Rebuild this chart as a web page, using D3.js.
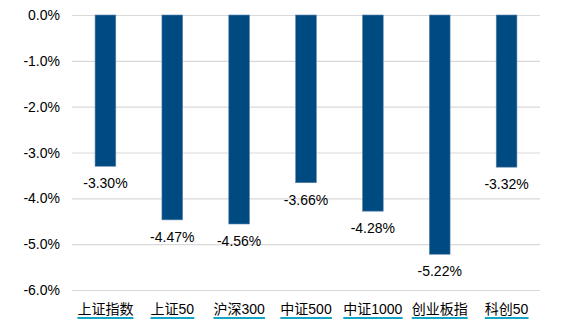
<!DOCTYPE html>
<html><head><meta charset="utf-8">
<script src="https://cdn.jsdelivr.net/npm/d3@7/dist/d3.min.js"></script>
<style>body{margin:0;background:#fff}svg{display:block}</style>
</head><body><svg id="c" width="568" height="322"></svg>
<script>
const categories = ["上证指数","上证50","沪深300","中证500","中证1000","创业板指","科创50"];
const values = [-3.30,-4.47,-4.56,-3.66,-4.28,-5.22,-3.32];
const yTicks = [0,-1,-2,-3,-4,-5,-6];

const loc = d3.formatLocale({decimal:".",thousands:",",grouping:[3],currency:["",""],minus:"-"});
const f1 = loc.format(".1f"), f2 = loc.format(".2f");

const svg = d3.select("#c");
const x = d3.scaleBand().domain(categories).range([72,540]).paddingInner(0.69).paddingOuter(0.345);
const y = d3.scaleLinear().domain([0,-6]).range([15,290]);

svg.append("g").selectAll("line").data(yTicks).join("line")
  .attr("x1",72).attr("x2",540).attr("y1",d=>y(d)+0.5).attr("y2",d=>y(d)+0.5)
  .attr("stroke","#d9d9d9").attr("stroke-width",1.2);

svg.append("g").selectAll("text").data(yTicks).join("text")
  .attr("x",60).attr("y",d=>y(d)+5).attr("text-anchor","end")
  .attr("font-family","Liberation Sans, Arial, sans-serif").attr("font-size",14).attr("fill","#000")
  .text(d=>f1(d)+"%");

svg.append("g").selectAll("rect").data(values).join("rect")
  .attr("x",(d,i)=>x(categories[i])).attr("width",x.bandwidth())
  .attr("y",y(0)).attr("height",d=>y(d)-y(0))
  .attr("fill","#004a82").attr("stroke","#5f86ad").attr("stroke-width",0.6);

svg.append("g").selectAll("text").data(values).join("text")
  .attr("x",(d,i)=>x(categories[i])+x.bandwidth()/2).attr("y",d=>y(d)+22)
  .attr("text-anchor","middle")
  .attr("font-family","Liberation Sans, Arial, sans-serif").attr("font-size",14).attr("fill","#000")
  .text(d=>f2(d)+"%");

const lg = svg.append("g");
categories.forEach((c,i)=>{
  const cx = x(c)+x.bandwidth()/2;
  const t = lg.append("text").attr("x",cx).attr("y",314).attr("text-anchor","middle")
    .attr("font-family","Liberation Sans, Noto Sans CJK SC, sans-serif").attr("font-weight","normal").attr("font-size",14).attr("fill","#000")
    .text(c);
  const bb = t.node().getBBox();
  lg.append("line").attr("x1",bb.x).attr("x2",bb.x+bb.width).attr("y1",318).attr("y2",318)
    .attr("stroke","#14a5c4").attr("stroke-width",2);
});
</script></body></html>
